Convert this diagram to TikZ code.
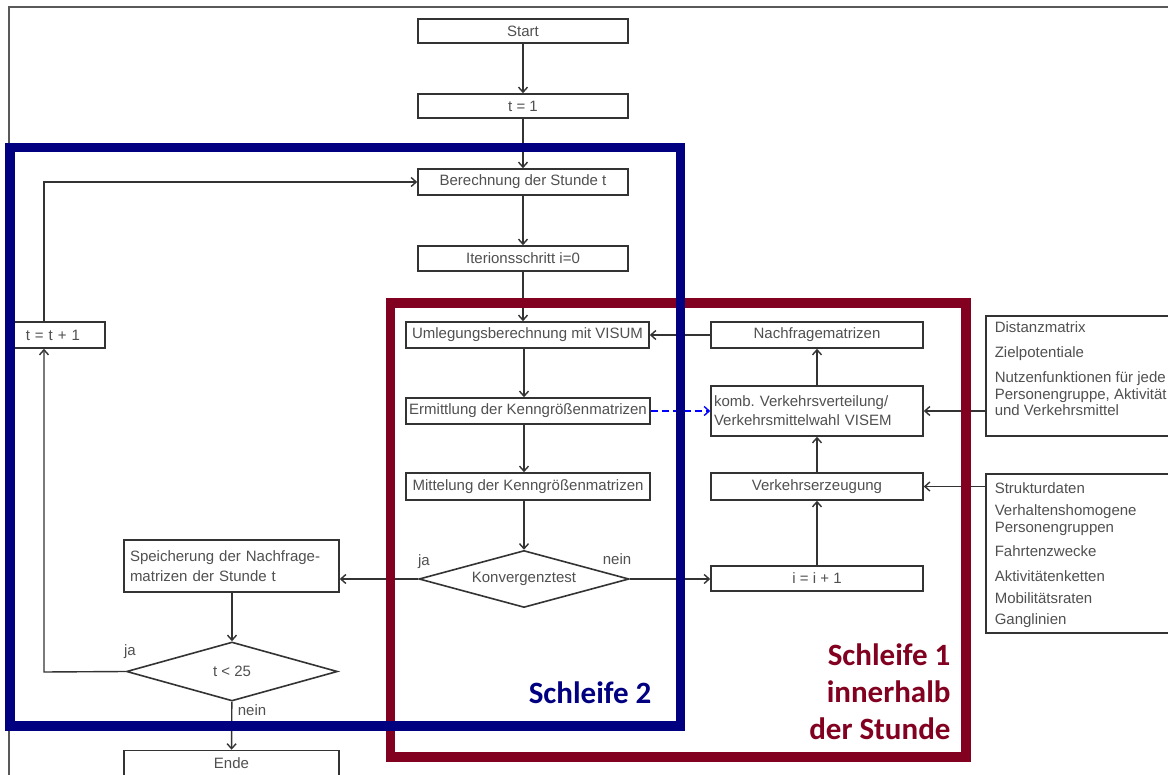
\documentclass[tikz,border=0pt]{standalone}
\usepackage{fontspec}
\setmainfont{Liberation Sans}
\newfontfamily\calib{Carlito}
\usetikzlibrary{shapes.geometric,arrows.meta}
\definecolor{navyb}{HTML}{000080}
\definecolor{darkred}{HTML}{820020}
\definecolor{boxline}{HTML}{333333}
\definecolor{txt}{HTML}{505050}
\frenchspacing
\begin{document}
\begin{tikzpicture}[x=1pt,y=-1pt,
  every node/.style={font=\fontsize{15}{16.5}\selectfont, text=txt},
  box/.style={draw=boxline, line width=1.6pt, rectangle, inner sep=0pt},
  dia/.style={draw=boxline, line width=1.6pt, diamond, aspect=3.7, inner sep=0pt},
  conn/.style={draw=boxline, line width=1.4pt, -{Straight Barb[length=5pt,width=9pt]}},
  lbl/.style={inner sep=0pt},
  loopbox/.style={line width=9.5pt},
  big/.style={font=\calib\bfseries\fontsize{31}{37}\selectfont}
]
\useasboundingbox (0,0) rectangle (1168,775);
\clip (0,0) rectangle (1168,775);
\fill[white] (0,0) rectangle (1168,775);
% outer frame
\draw[black!65, line width=1.5pt] (9,780) -- (9,7) -- (1175,7);

% main column
\node[box, minimum width=210pt, minimum height=24pt] (start) at (523,31) {Start};
\node[box, minimum width=210pt, minimum height=24pt] (t1) at (523,106) {t = 1};
\node[box, minimum width=210pt, minimum height=26pt] (ber) at (523,182) {Berechnung der Stunde t};
\node[box, minimum width=210pt, minimum height=25pt] (iter) at (523,258.5) {Iterionsschritt i=0};
\node[box, minimum width=243pt, minimum height=26pt] (uml) at (527.5,335) {Umlegungsberechnung mit VISUM};
\node[box, minimum width=244pt, minimum height=26pt] (erm) at (528,411) {Ermittlung der Kenngrößenmatrizen};
\node[box, minimum width=244pt, minimum height=27pt] (mit) at (528,486.5) {Mittelung der Kenngrößenmatrizen};
\node[dia, minimum width=210pt, minimum height=57pt] (konv) at (524,579) {Konvergenztest};

% left column
\node[box, minimum width=215pt, minimum height=52pt, text width=203pt, inner xsep=6pt, align=left, font=\fontsize{15}{19.5}\selectfont] (speich) at (231.5,566) {Speicherung der Nachfrage-\\matrizen der Stunde t};
\node[dia, minimum width=211pt, minimum height=59pt] (t25) at (232,671.5) {t < 25};
\node[box, minimum width=215pt, minimum height=25pt] (ende) at (231.5,763) {Ende};
\node[box, anchor=west, minimum height=26pt, text width=64pt, inner xsep=15pt, align=left] (tt) at (10,335) {t = t + 1};

% right column
\node[box, minimum width=212pt, minimum height=26pt] (nach) at (817,335) {Nachfragematrizen};
\node[box, minimum width=212pt, minimum height=50pt, text width=206pt, inner xsep=3pt, align=left, font=\fontsize{15}{19}\selectfont] (komb) at (817,411) {komb. Verkehrsverteilung/\\Verkehrsmittelwahl VISEM};
\node[box, minimum width=212pt, minimum height=27pt] (verk) at (817,486.5) {Verkehrserzeugung};
\node[box, minimum width=212pt, minimum height=25pt] (ii) at (817,578.5) {i = i + 1};

% data boxes
\node[box, anchor=north west, inner xsep=9pt, inner ysep=0pt] (dist) at (985,315)
  {\parbox[t][120pt][t]{177pt}{\raggedright\rule{0pt}{17pt}Distanzmatrix\\[8.5pt]
   Zielpotentiale\\[8.5pt]
   Nutzenfunktionen für jede\\
   Personengruppe, Aktivität\\
   und Verkehrsmittel}};
\node[box, anchor=north west, inner xsep=9pt, inner ysep=0pt] (struk) at (985,473)
  {\parbox[t][159pt][t]{177pt}{\raggedright\rule{0pt}{20pt}Strukturdaten\\[5.5pt]
   Verhaltenshomogene\\
   Personengruppen\\[7.5pt]
   Fahrtenzwecke\\[8.5pt]
   Aktivitätenketten\\[5.5pt]
   Mobilitätsraten\\[4.5pt]
   Ganglinien}};

% labels
\node[lbl] (ja1) at (424,562) {ja};
\node[lbl] (nein1) at (617,559) {nein};
\node[lbl] (ja2) at (130,652) {ja};
\node[lbl] (nein2) at (252,710) {nein};

% connectors
\draw[conn] (start) -- (t1);
\draw[conn] (t1) -- (ber);
\draw[conn] (ber) -- (iter);
\draw[conn] (iter.south) -- (iter.south |- uml.north);
\draw[conn] (konv.north |- uml.south) -- (konv.north |- erm.north);
\draw[conn] (konv.north |- erm.south) -- (konv.north |- mit.north);
\draw[conn] (konv.north |- mit.south) -- (konv.north);
\draw[conn] (konv.west) -- (konv.west -| speich.east);
\draw[conn] (konv.east) -- (konv.east -| ii.west);
\draw[conn] (ii) -- (verk);
\draw[conn] (verk) -- (komb);
\draw[conn] (komb) -- (nach);
\draw[conn] (nach) -- (uml);
\draw[conn, draw=blue, dash pattern=on 7pt off 4pt] (erm.east) -- (komb.west);
\draw[conn] (komb.east -| dist.west) -- (komb.east);
\draw[conn] (verk.east -| struk.west) -- (verk.east);
\draw[conn] (speich.south -| t25.north) -- (t25.north);
\draw[conn] (t25) -- (ende);
\coordinate (lp) at (44,672);
\draw[conn] (t25.west) -- (lp) -- (lp |- tt.south);
\draw[conn] (lp |- tt.north) |- (ber.west);

% loop frames
\draw[darkred, loopbox] (390.5,303) rectangle (966,757);
\draw[navyb, loopbox] (10,147.5) rectangle (680.5,726);

\node[big, text=navyb, anchor=east] (s2) at (655,693) {Schleife 2};
\node[big, text=darkred, align=right, anchor=east] (s1) at (954,692) {Schleife 1\\innerhalb\\der Stunde};
\end{tikzpicture}
\end{document}
